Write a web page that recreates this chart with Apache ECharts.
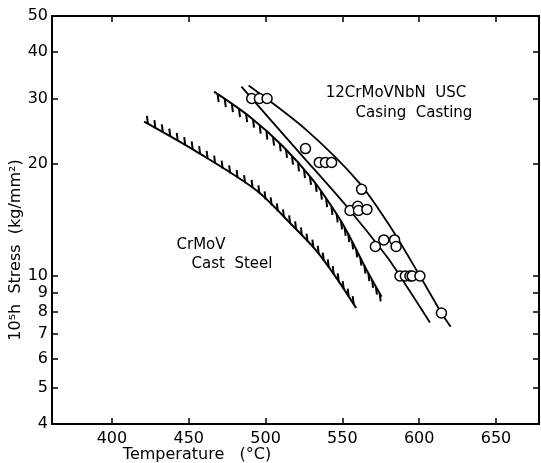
<!DOCTYPE html>
<html>
<head>
<meta charset="utf-8">
<script src="https://cdn.jsdelivr.net/npm/echarts@6/dist/echarts.min.js"></script>
<style>
html,body{margin:0;padding:0;background:#fff;}
#c{width:541px;height:463px;}
</style>
</head>
<body>
<div id="c"></div>
<script>
// Axis ticks
const tempTicks = [400, 450, 500, 550, 600, 650];
const stressTicks = [4, 5, 6, 7, 8, 9, 10, 20, 30, 40, 50];

// 12CrMoVNbN USC casing casting data points (temperature °C, 10^5 h stress kg/mm²)
const uscTemp   = [491, 496, 501, 526, 535, 539, 543, 562.5, 555, 560, 560.5, 566, 571.5, 577, 584, 585, 587.5, 591, 594, 595.5, 600.5, 614.5];
const uscStress = [30, 30, 30, 22, 20.2, 20.2, 20.2, 17.1, 15.0, 15.4, 15.0, 15.1, 12.0, 12.5, 12.5, 12.0, 10.0, 10.0, 10.0, 10.0, 10.0, 7.95];

// USC band curves
const uscUpperTemp   = [489, 526.5, 561, 581, 600.5, 614.5, 620.5];
const uscUpperStress = [32.5, 24.7, 17.8, 13.6, 10.0, 7.95, 7.3];
const uscLowerTemp   = [484.3, 522.3, 552.7, 578.8, 587.5, 607];
const uscLowerStress = [32.3, 21.4, 15.4, 11.3, 10.0, 7.5];

// CrMoV cast steel scatter band (hatched bounds)
const crmovUpperTemp   = [466.5, 489.7, 511.4, 530.9, 548, 555, 565.7, 575.5];
const crmovUpperStress = [31.3, 26.8, 22.3, 18.1, 14.3, 12.7, 10.4, 8.8];
const crmovLowerTemp   = [421, 455, 494, 518, 533, 546, 559];
const crmovLowerStress = [26.0, 21.6, 17.0, 13.6, 11.7, 9.9, 8.2];

const FONT = 'DejaVu Sans';

function pairs(xs, ys) { return xs.map((x, i) => [x, ys[i]]); }
function segments(xs, ys) {
  const out = [];
  for (let i = 1; i < xs.length; i++) out.push([xs[i - 1], ys[i - 1], xs[i], ys[i]]);
  return out;
}
function hatchRenderer(dir) {
  return function (params, api) {
    const p1 = api.coord([api.value(0), api.value(1)]);
    const p2 = api.coord([api.value(2), api.value(3)]);
    const dx = p2[0] - p1[0], dy = p2[1] - p1[1];
    const len = Math.sqrt(dx * dx + dy * dy);
    const n = Math.max(1, Math.round(len / 8.6));
    const children = [];
    for (let k = 0; k < n; k++) {
      const t = (k + 0.5) / n;
      const x = p1[0] + dx * t, y = p1[1] + dy * t;
      children.push({
        type: 'line',
        shape: { x1: x, y1: y, x2: x + 1 * dir, y2: y + 8 * dir },
        style: { stroke: '#000', lineWidth: 2 }
      });
    }
    return { type: 'group', children: children };
  };
}

const chart = echarts.init(document.getElementById('c'), null, { renderer: 'canvas' });
const axisLine = { show: true, lineStyle: { color: '#000', width: 2 } };
const tickStyle = { color: '#000', width: 1.5 };

chart.setOption({
  animation: false,
  backgroundColor: '#fff',
  grid: { left: 52, right: 2, top: 16, bottom: 39, show: false },
  xAxis: [{
    type: 'value', min: 361, max: 678, position: 'bottom',
    axisLine: axisLine,
    axisTick: { show: true, inside: true, length: 6, lineStyle: tickStyle, customValues: tempTicks },
    axisLabel: { color: '#000', fontFamily: FONT, fontSize: 16, margin: 7, customValues: tempTicks },
    splitLine: { show: false }
  }, {
    type: 'value', min: 361, max: 678, position: 'top',
    axisLine: axisLine,
    axisTick: { show: true, inside: true, length: 6, lineStyle: tickStyle, customValues: tempTicks },
    axisLabel: { show: false },
    splitLine: { show: false }
  }],
  yAxis: [{
    type: 'log', logBase: 10, min: 4, max: 50, position: 'left',
    axisLine: axisLine,
    axisTick: { show: true, inside: true, length: 6, lineStyle: tickStyle, customValues: stressTicks },
    axisLabel: { color: '#000', fontFamily: FONT, fontSize: 16, margin: 4, customValues: stressTicks },
    splitLine: { show: false }
  }, {
    type: 'log', logBase: 10, min: 4, max: 50, position: 'right',
    axisLine: axisLine,
    axisTick: { show: true, inside: true, length: 6, lineStyle: tickStyle, customValues: stressTicks },
    axisLabel: { show: false },
    splitLine: { show: false }
  }],
  graphic: [
    { type: 'text', x: 197, y: 455, style: { text: 'Temperature   (°C)', font: '16px "DejaVu Sans"', fill: '#000', align: 'center', verticalAlign: 'middle' } },
    { type: 'text', x: 16, y: 250, rotation: Math.PI / 2, style: { text: '10⁵h  Stress  (kg/mm²)', font: '16px "DejaVu Sans"', fill: '#000', align: 'center', verticalAlign: 'middle' } },
    { type: 'text', x: 396, y: 93, style: { text: '12CrMoVNbN  USC', font: '15px "DejaVu Sans"', fill: '#000', align: 'center', verticalAlign: 'middle' } },
    { type: 'text', x: 414, y: 113, style: { text: 'Casing  Casting', font: '15px "DejaVu Sans"', fill: '#000', align: 'center', verticalAlign: 'middle' } },
    { type: 'text', x: 201, y: 245, style: { text: 'CrMoV', font: '15px "DejaVu Sans"', fill: '#000', align: 'center', verticalAlign: 'middle' } },
    { type: 'text', x: 232, y: 264, style: { text: 'Cast  Steel', font: '15px "DejaVu Sans"', fill: '#000', align: 'center', verticalAlign: 'middle' } }
  ],
  series: [
    {
      type: 'line', data: pairs(uscUpperTemp, uscUpperStress), smooth: 0.3,
      symbol: 'none', lineStyle: { color: '#000', width: 1.8 }, z: 3
    },
    {
      type: 'line', data: pairs(uscLowerTemp, uscLowerStress), smooth: 0.3,
      symbol: 'none', lineStyle: { color: '#000', width: 1.8 }, z: 3
    },
    {
      type: 'line', data: pairs(crmovUpperTemp, crmovUpperStress), smooth: 0.3,
      symbol: 'none', lineStyle: { color: '#000', width: 2 }, z: 2
    },
    {
      type: 'line', data: pairs(crmovLowerTemp, crmovLowerStress), smooth: 0.3,
      symbol: 'none', lineStyle: { color: '#000', width: 2 }, z: 2
    },
    {
      type: 'custom', renderItem: hatchRenderer(1),
      data: segments(crmovUpperTemp, crmovUpperStress),
      encode: { x: [0, 2], y: [1, 3] }, z: 2
    },
    {
      type: 'custom', renderItem: hatchRenderer(-1),
      data: segments(crmovLowerTemp, crmovLowerStress),
      encode: { x: [0, 2], y: [1, 3] }, z: 2
    },
    {
      type: 'scatter', data: pairs(uscTemp, uscStress),
      symbol: 'circle', symbolSize: 10,
      itemStyle: { color: '#fff', borderColor: '#000', borderWidth: 1.5, opacity: 1 }, z: 5
    }
  ]
});
</script>
</body>
</html>
